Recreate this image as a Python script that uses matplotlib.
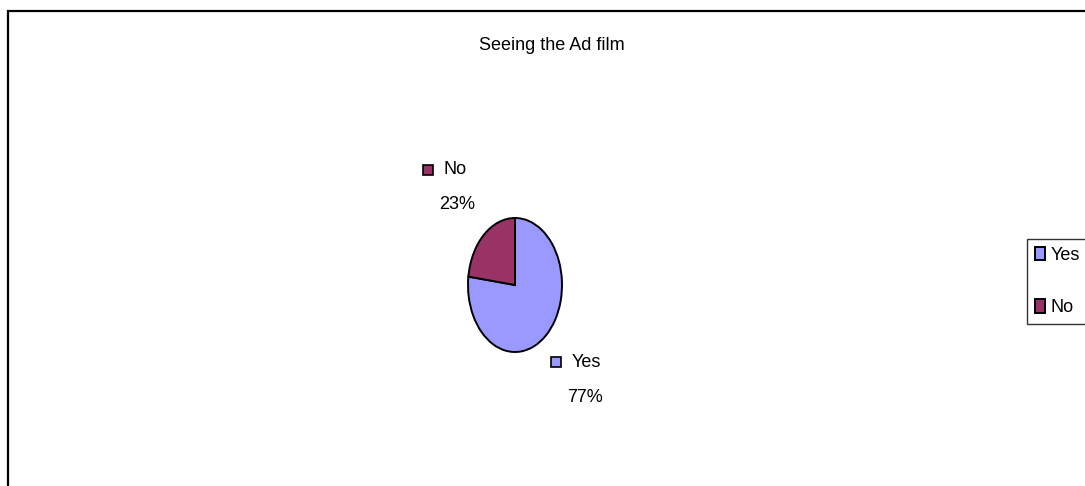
import numpy as np
import matplotlib
matplotlib.use("Agg")
import matplotlib.pyplot as plt
from matplotlib import font_manager
from matplotlib.patches import Rectangle
from matplotlib.transforms import offset_copy

# survey answers
categories = ["Yes", "No"]
shares     = [77, 23]
colors     = ["#9999FF", "#993366"]
title      = "Seeing the Ad film"

W, H = 1085, 486

# narrow Arial look-alike if present, else the regular one
try:
    font_manager.findfont("Liberation Sans Narrow", fallback_to_default=False)
    family, fs = "Liberation Sans Narrow", 16.0
except ValueError:
    family, fs = "Liberation Sans", 13.0
plt.rcParams["font.family"] = [family, "DejaVu Sans"]

fig = plt.figure(figsize=(W / 100, H / 100), dpi=100)

# outer chart border (runs off the right and bottom edges)
fig.add_artist(Rectangle((7.5 / W, -0.2), 1.5, 1.2 - 10.5 / H, transform=fig.transFigure,
                         fill=False, edgecolor="black", linewidth=1.6))

fig.text(552 / W, 1 - 50 / H, title, ha="center", va="baseline", fontsize=fs)

# pie stretched into an ellipse
ax = fig.add_axes([468 / W, 1 - 352 / H, 94 / W, 134 / H])
wedges, _ = ax.pie(shares, colors=colors, startangle=90, counterclock=False,
                   wedgeprops=dict(edgecolor="black", linewidth=1.4))
ax.set_aspect("auto")
ax.set_xlim(-1, 1)
ax.set_ylim(-1, 1)
ax.axis("off")

# label blocks: pixel offset of the marker from the wedge's mid-edge point
label_offsets = [(10, -27), (-56, 65)]
for w, name, pct, col, (dx, dy) in zip(wedges, categories, shares, colors, label_offsets):
    theta = np.deg2rad((w.theta1 + w.theta2) / 2)
    px, py = np.cos(theta), np.sin(theta)
    tr = offset_copy(ax.transData, fig=fig, x=dx, y=dy, units="dots")
    ax.plot([px], [py], marker="s", markersize=7.5, markerfacecolor=col,
            markeredgecolor="black", markeredgewidth=1.2, transform=tr, clip_on=False)
    tr_name = offset_copy(ax.transData, fig=fig, x=dx + 16, y=dy, units="dots")
    ax.text(px, py, name, transform=tr_name, ha="left", va="center", fontsize=fs, clip_on=False)
    tr_pct = offset_copy(ax.transData, fig=fig, x=dx + 29, y=dy - 35, units="dots")
    ax.text(px, py, "%d%%" % pct, transform=tr_pct, ha="center", va="center", fontsize=fs, clip_on=False)

leg = fig.legend(wedges, categories, loc="upper left", bbox_to_anchor=(1027 / W, 1 - 239 / H),
                 fontsize=fs, frameon=True, fancybox=False, handlelength=0.55, handleheight=0.75,
                 handletextpad=0.3, labelspacing=1.95, borderpad=0.45, borderaxespad=0)
leg.get_frame().set_edgecolor("black")
leg.get_frame().set_linewidth(1.0)

plt.savefig("out.png", dpi=100)
